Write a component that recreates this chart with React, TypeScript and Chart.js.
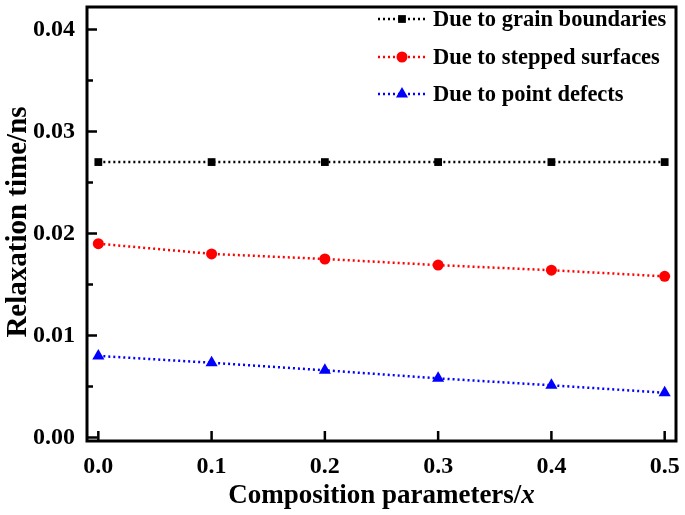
import React, { useEffect, useRef } from "react";
import { Chart, registerables } from "chart.js";

Chart.register(...registerables);

const xValues = [0, 0.1, 0.2, 0.3, 0.4, 0.5];
const grainBoundaries = [0.027, 0.027, 0.027, 0.027, 0.027, 0.027];
const steppedSurfaces = [0.0190, 0.0180, 0.0175, 0.0169, 0.0164, 0.0158];
const pointDefects = [0.0080, 0.00733, 0.00659, 0.0058, 0.00512, 0.00439];
const seriesNames = ["Due to grain boundaries", "Due to stepped surfaces", "Due to point defects"];
const seriesColors = ["#000000", "#ff0000", "#0000ff"];
const seriesShapes = ["rect", "circle", "triangle"];
const xTicks = [0, 0.1, 0.2, 0.3, 0.4, 0.5];
const yTicks = [0, 0.01, 0.02, 0.03, 0.04];
const yMinorTicks = [0.005, 0.015, 0.025, 0.035];
const xTitle = "Composition parameters/";
const xTitleItalic = "x";
const yTitle = "Relaxation time/ns";

const FONT = "'Liberation Serif', 'Times New Roman', serif";

function drawMarker(ctx: CanvasRenderingContext2D, shape: string, x: number, y: number, r: number, color: string) {
  ctx.save();
  ctx.fillStyle = color;
  ctx.beginPath();
  if (shape === "rect") {
    const s = Math.SQRT1_2 * r;
    ctx.rect(x - s, y - s, 2 * s, 2 * s);
  } else if (shape === "circle") {
    ctx.arc(x, y, r, 0, Math.PI * 2);
  } else {
    const w = r * Math.sqrt(3) / 2;
    ctx.moveTo(x, y - r);
    ctx.lineTo(x + w, y + r / 2);
    ctx.lineTo(x - w, y + r / 2);
    ctx.closePath();
  }
  ctx.fill();
  ctx.restore();
}

const decorPlugin = {
  id: "decor",
  afterDraw(chart: any) {
    const ctx: CanvasRenderingContext2D = chart.ctx;
    const { left, right, top, bottom } = chart.chartArea;
    const xs = chart.scales.x;
    const ys = chart.scales.y;
    ctx.save();
    ctx.strokeStyle = "#000";
    ctx.lineWidth = 3;
    ctx.strokeRect(left, top, right - left, bottom - top);
    ctx.lineWidth = 2.5;
    ctx.beginPath();
    xTicks.forEach((v) => {
      const px = xs.getPixelForValue(v);
      ctx.moveTo(px, bottom);
      ctx.lineTo(px, bottom - 10);
    });
    yTicks.forEach((v) => {
      const py = ys.getPixelForValue(v);
      ctx.moveTo(left, py);
      ctx.lineTo(left + 10, py);
    });
    yMinorTicks.forEach((v) => {
      const py = ys.getPixelForValue(v);
      ctx.moveTo(left, py);
      ctx.lineTo(left + 6, py);
    });
    ctx.stroke();

    // x title
    ctx.fillStyle = "#000";
    ctx.textBaseline = "alphabetic";
    const fsX = 27;
    ctx.font = `bold ${fsX}px ${FONT}`;
    const w1 = ctx.measureText(xTitle).width;
    ctx.font = `italic bold ${fsX}px ${FONT}`;
    const w2 = ctx.measureText(xTitleItalic).width;
    const cx = (left + right) / 2;
    const startX = cx - (w1 + w2) / 2;
    const baseY = 503;
    ctx.font = `bold ${fsX}px ${FONT}`;
    ctx.textAlign = "left";
    ctx.fillText(xTitle, startX, baseY);
    ctx.font = `italic bold ${fsX}px ${FONT}`;
    ctx.fillText(xTitleItalic, startX + w1, baseY);

    // y title
    ctx.save();
    ctx.translate(19, (top + bottom) / 2 - 2);
    ctx.rotate(-Math.PI / 2);
    ctx.font = `bold 29px ${FONT}`;
    ctx.textAlign = "center";
    ctx.textBaseline = "middle";
    ctx.fillText(yTitle, 0, 0);
    ctx.restore();

    // legend
    const rowsY = [19, 57, 94];
    const radii = [5.5, 5.5, 7];
    seriesNames.forEach((name, i) => {
      const y = rowsY[i];
      ctx.save();
      ctx.strokeStyle = seriesColors[i];
      ctx.lineWidth = 2.5;
      ctx.setLineDash([2, 3]);
      ctx.beginPath();
      ctx.moveTo(378, y);
      ctx.lineTo(426, y);
      ctx.stroke();
      ctx.restore();
      drawMarker(ctx, seriesShapes[i], 402, y, radii[i], seriesColors[i]);
      ctx.fillStyle = "#000";
      ctx.font = `bold 22.5px ${FONT}`;
      ctx.textAlign = "left";
      ctx.textBaseline = "middle";
      ctx.fillText(name, 433, y + 1);
    });
    ctx.restore();
  },
};

const zeroPad = (s: any) => {
  s.paddingTop = 0;
  s.paddingBottom = 0;
  s.paddingLeft = 0;
  s.paddingRight = 0;
};

export default function App() {
  const ref = useRef<HTMLCanvasElement | null>(null);
  useEffect(() => {
    if (!ref.current) return;
    const mk = (data: number[], i: number, r: number) => ({
      label: seriesNames[i],
      data: xValues.map((x, k) => ({ x, y: data[k] })),
      borderColor: seriesColors[i],
      backgroundColor: seriesColors[i],
      borderWidth: 2.5,
      borderDash: [2, 3],
      pointStyle: seriesShapes[i] as any,
      pointRadius: r,
      pointBorderWidth: 0,
      pointBackgroundColor: seriesColors[i],
      pointBorderColor: seriesColors[i],
      showLine: true,
      fill: false,
    });
    const chart = new Chart(ref.current, {
      type: "scatter",
      data: {
        datasets: [
          mk(grainBoundaries, 0, 5.5),
          mk(steppedSurfaces, 1, 5.5),
          mk(pointDefects, 2, 7),
        ],
      },
      options: {
        responsive: false,
        animation: false,
        layout: { padding: { top: 6, right: 9, left: 0, bottom: 0 } },
        plugins: { legend: { display: false }, tooltip: { enabled: false } },
        scales: {
          x: {
            type: "linear",
            min: -0.01,
            max: 0.51,
            grid: { display: false, drawTicks: false },
            border: { display: false },
            afterFit: (s: any) => { s.height = 74; zeroPad(s); },
            afterBuildTicks: (s: any) => { s.ticks = xTicks.map((v) => ({ value: v })); },
            ticks: {
              padding: 11,
              color: "#000",
              font: { family: FONT, size: 24, weight: "bold" },
              callback: (v: any) => Number(v).toFixed(1),
              maxRotation: 0,
            },
          },
          y: {
            type: "linear",
            min: -0.00034,
            max: 0.0422,
            grid: { display: false, drawTicks: false },
            border: { display: false },
            afterFit: (s: any) => { s.width = 87; zeroPad(s); },
            afterBuildTicks: (s: any) => { s.ticks = yTicks.map((v) => ({ value: v })); },
            ticks: {
              padding: 12,
              color: "#000",
              font: { family: FONT, size: 24, weight: "bold" },
              callback: (v: any) => Number(v).toFixed(2),
            },
          },
        },
      },
      plugins: [decorPlugin],
    } as any);
    return () => chart.destroy();
  }, []);
  return (
    <div style={{ position: "absolute", left: 0, top: 0, width: 685, height: 515, background: "#fff" }}>
      <canvas ref={ref} width={685} height={515} />
    </div>
  );
}
